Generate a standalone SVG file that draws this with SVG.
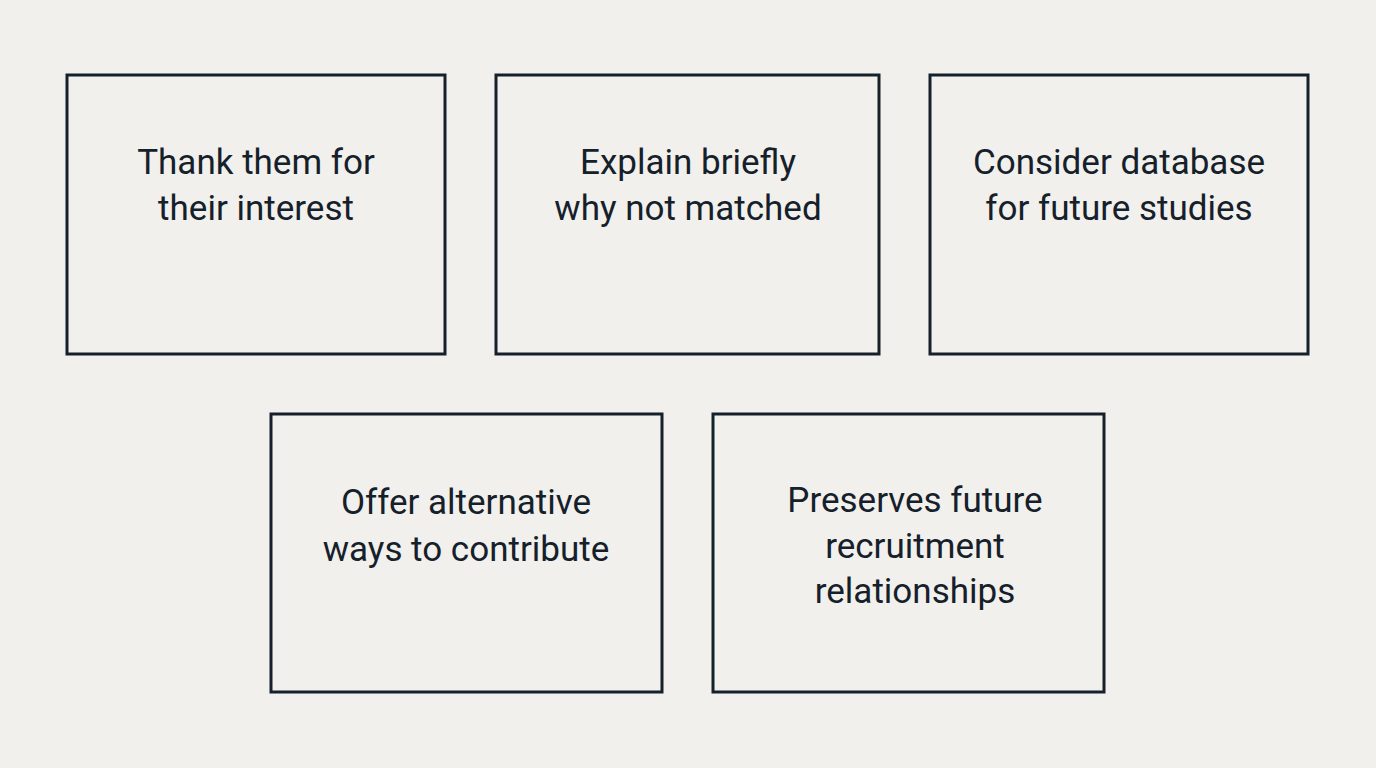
<svg xmlns="http://www.w3.org/2000/svg" width="1376" height="768" viewBox="0 0 1376 768">
<style>
.box{fill:none;stroke:#15202b;stroke-width:3}
.t{font-family:Roboto,"Liberation Sans",sans-serif;font-size:35px;fill:#15202b;text-anchor:middle}
</style>
<rect width="1376" height="768" fill="#f1f0ec"/>
<g id="n1"><rect class="box" x="67" y="75" width="378" height="279"/><text class="t" x="256" y="174">Thank them for</text><text class="t" x="256" y="220">their interest</text></g>
<g id="n2"><rect class="box" x="496" y="75" width="383" height="279"/><text class="t" x="688" y="174">Explain briefly</text><text class="t" x="688" y="220">why not matched</text></g>
<g id="n3"><rect class="box" x="930" y="75" width="378" height="279"/><text class="t" x="1119" y="174">Consider database</text><text class="t" x="1119" y="220">for future studies</text></g>
<g id="n4"><rect class="box" x="271" y="414" width="391" height="278"/><text class="t" x="466" y="514">Offer alternative</text><text class="t" x="466" y="561">ways to contribute</text></g>
<g id="n5"><rect class="box" x="713" y="414" width="391" height="278"/><text class="t" x="915" y="512">Preserves future</text><text class="t" x="915" y="558">recruitment</text><text class="t" x="915" y="603">relationships</text></g>
<g id="connectors"/>
</svg>
